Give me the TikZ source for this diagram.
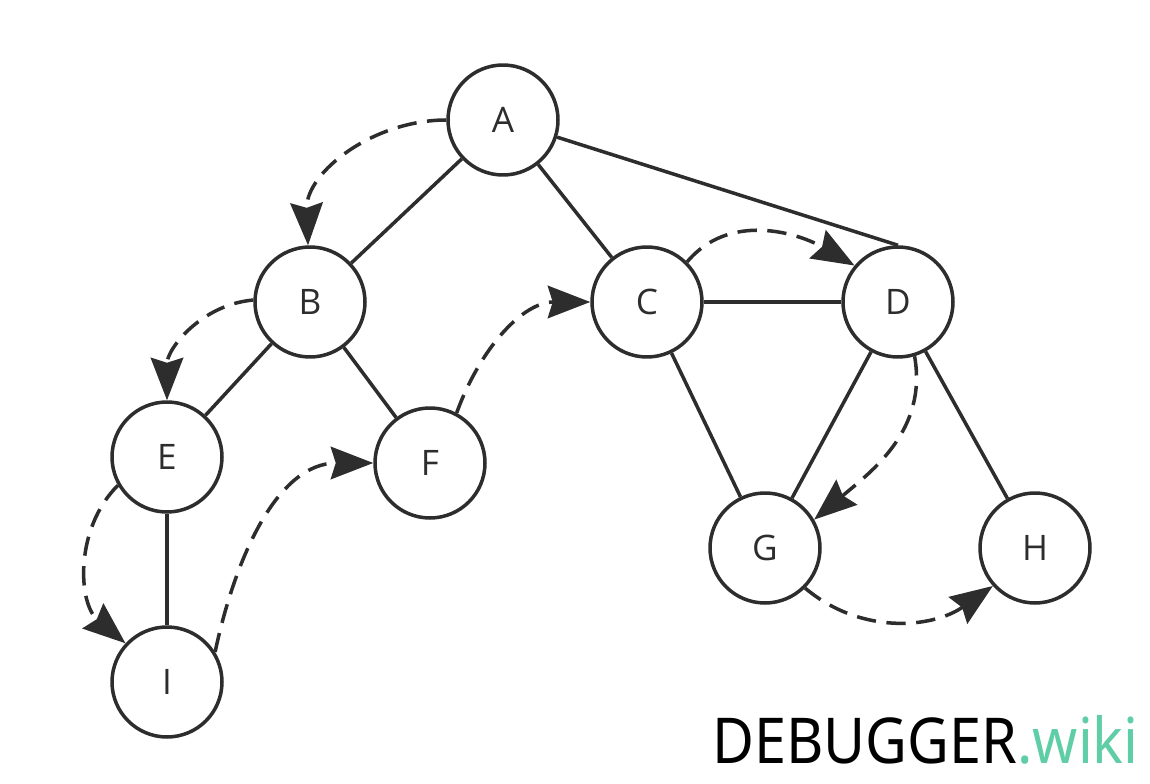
\documentclass[tikz,border=0pt]{standalone}
\usepackage{fontspec}
\setmainfont{Open Sans}
\newfontfamily\wmfont{Noto Sans}
\usepackage{tikz}
\usetikzlibrary{arrows.meta,calc,positioning}
\definecolor{ink}{RGB}{45,45,45}
\definecolor{wiki}{RGB}{95,205,165}

\begin{document}
\begin{tikzpicture}[x=0.02cm,y=-0.02cm,
  vtx/.style={circle,draw=ink,line width=2pt,minimum size=2.2cm,inner sep=0pt,font=\fontsize{20}{20}\selectfont,text=ink},
  edge/.style={draw=ink,line width=2pt},
  walk/.style={draw=ink,line width=2pt,dash pattern=on 11pt off 6pt,-{Stealth[length=0.85cm,width=0.65cm,inset=0.1cm,fill=ink]}}]
  \useasboundingbox (0,0) rectangle (1150,784);
  \foreach \n/\x/\y in {A/503/120,B/310/302,C/647/302,D/898/302,E/167/457,F/430/463,G/765/548,H/1035/548,I/167/682} {\node[vtx] (\n) at (\x,\y) {\n};}
  \foreach \a/\b in {A/B,A/C,B/E,B/F,E/I,C/D,C/G,D/G,D/H} {\draw[edge] (\a)--(\b);}
  \draw[edge] (A)--(D.north);
  % traversal order
  \draw[walk] (A.180) to[out=180,in=92] (B.92);
  \draw[walk] (B.178) to[out=185,in=90] (E.90);
  \draw[walk] (E.210) to[out=225,in=140] (I.137);
  \draw[walk] (I.32) to[out=78,in=180] (F.180);
  \draw[walk] (F.62) to[out=70,in=180] (C.180);
  \draw[walk] (C.45) to[out=50,in=150] (D.140);
  \draw[walk] (D.287) to[out=-80,in=40] (G.30);
  \draw[walk] (G.-45) to[out=-40,in=215] (H.222);
  \node[anchor=base west,inner sep=0pt,font=\wmfont\fontsize{36}{36}\selectfont,xscale=0.91,transform shape] (wm) at (712,763) {DEBUGGER\textcolor{wiki}{.wiki}};
\end{tikzpicture}
\end{document}
